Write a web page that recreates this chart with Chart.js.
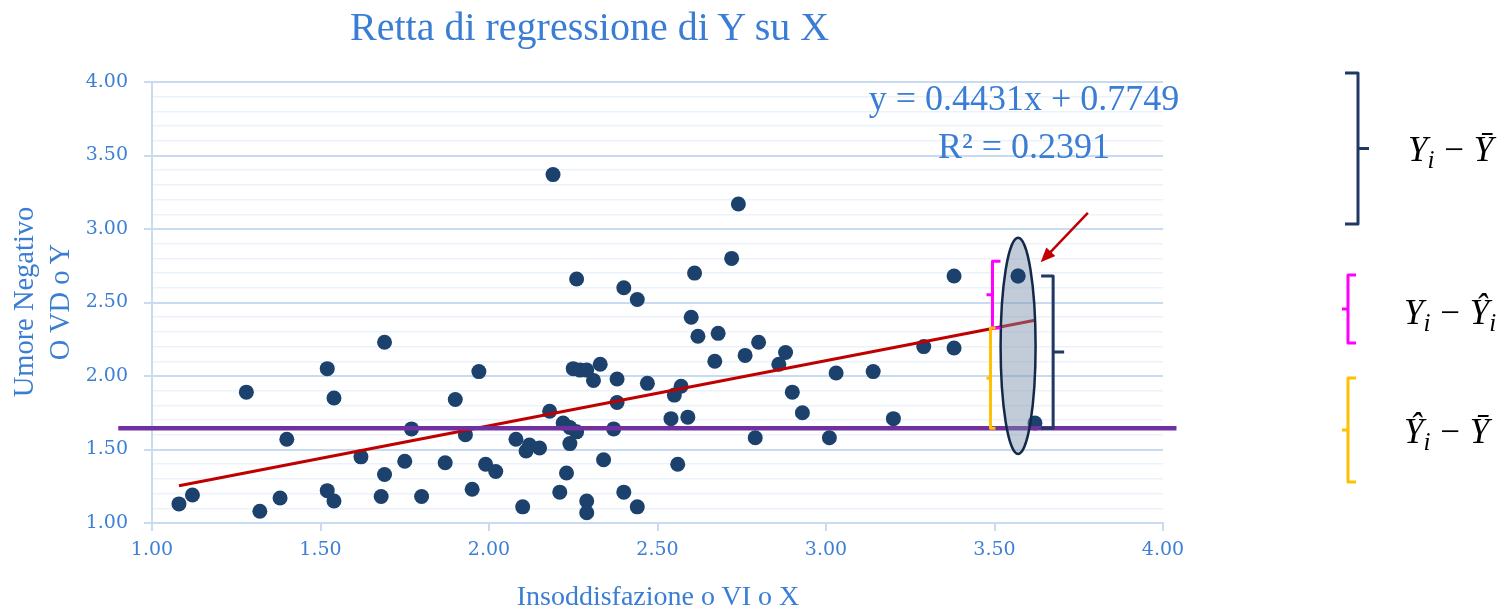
<!DOCTYPE html>
<html>
<head>
<meta charset="utf-8">
<script src="https://cdn.jsdelivr.net/npm/chart.js@4.4.1/dist/chart.umd.min.js"></script>
<style>
  html, body { margin: 0; padding: 0; background: #fff; }
  #wrap { position: relative; width: 1509px; height: 612px; overflow: hidden; }
  canvas { position: absolute; left: 0; top: 0; }
  .txt { position: absolute; font-family: "Liberation Serif", serif; color: #3a7dd4; white-space: nowrap; line-height: 1; }
  .math { position: absolute; font-family: "Liberation Serif", serif; font-style: italic; font-size: 35px; color: #000; white-space: nowrap; line-height: 1; }
  .math sub { font-size: 0.72em; vertical-align: -0.28em; line-height: 0; }
  .math .op { font-style: normal; margin: 0 0.28em; }
</style>
</head>
<body>
<div id="wrap">
  <canvas id="chart" width="1509" height="612"></canvas>
  <div class="txt" style="left:350px; top:7px; font-size:40px;">Retta di regressione di Y su X</div>
  <div class="txt" style="left:508px; width:300px; text-align:center; top:582px; font-size:28px;">Insoddisfazione o VI o X</div>
  <div class="txt" style="left:-108px; top:266px; width:300px; text-align:center; font-size:28.5px; line-height:36px; transform:rotate(-90deg);">Umore Negativo<br>O VD o Y</div>
  <div class="txt" style="left:824px; width:400px; text-align:center; top:74px; font-size:36px; line-height:48px;">y = 0.4431x + 0.7749<br>R² = 0.2391</div>
  <div class="math" style="left:1408px; top:132px;">Y<sub>i</sub><span class="op">−</span>Ȳ</div>
  <div class="math" style="left:1404px; top:295px;">Y<sub>i</sub><span class="op">−</span>Ŷ<sub>i</sub></div>
  <div class="math" style="left:1404px; top:414px;">Ŷ<sub>i</sub><span class="op">−</span>Ȳ</div>
</div>
<script>
// Insoddisfazione (X) e Umore negativo (Y)
const insoddisfazione = [
  1.08, 1.12, 1.28, 1.32, 1.38, 1.40, 1.52, 1.52, 1.54, 1.54,
  1.62, 1.68, 1.69, 1.69, 1.75, 1.77, 1.80, 1.87, 1.90, 1.93,
  1.95, 1.97, 1.99, 2.02, 2.08, 2.11, 2.12, 2.10, 2.15, 2.19,
  2.74, 2.72, 2.61, 2.26, 2.40, 2.44, 2.60, 2.62, 2.68, 2.80,
  2.76, 2.67, 2.88, 2.86, 3.03, 2.33, 2.25, 2.27, 2.29, 2.31,
  2.38, 2.47, 2.57, 2.55, 2.38, 2.18, 2.90, 2.93, 2.22, 2.24,
  2.26, 2.24, 2.37, 2.54, 2.59, 2.79, 3.01, 2.34, 2.56, 2.23,
  2.21, 2.40, 2.29, 2.29, 2.44, 3.14, 3.20, 3.29, 3.38, 3.38,
  3.57, 3.62
];
const umoreNegativo = [
  1.13, 1.19, 1.89, 1.08, 1.17, 1.57, 2.05, 1.22, 1.85, 1.15,
  1.45, 1.18, 2.23, 1.33, 1.42, 1.64, 1.18, 1.41, 1.84, 1.60,
  1.23, 2.03, 1.40, 1.35, 1.57, 1.49, 1.53, 1.11, 1.51, 3.37,
  3.17, 2.80, 2.70, 2.66, 2.60, 2.52, 2.40, 2.27, 2.29, 2.23,
  2.14, 2.10, 2.16, 2.08, 2.02, 2.08, 2.05, 2.04, 2.04, 1.97,
  1.98, 1.95, 1.93, 1.87, 1.82, 1.76, 1.89, 1.75, 1.68, 1.65,
  1.62, 1.54, 1.64, 1.71, 1.72, 1.58, 1.58, 1.43, 1.40, 1.34,
  1.21, 1.21, 1.15, 1.07, 1.11, 2.03, 1.71, 2.20, 2.19, 2.68,
  2.68, 1.68
];

// retta di regressione (dall'equazione) e media di Y (linea viola)
const slope = 0.4431;
const intercept = 0.7749;
const trendRange = [1.08, 3.62];
const yMean = 1.645;
const meanRange = [0.9, 4.04];

// tick
const xTicks = [1.0, 1.5, 2.0, 2.5, 3.0, 3.5, 4.0];
const yTicks = [];
for (let i = 0; i <= 30; i++) yTicks.push(Math.round((1 + i / 10) * 10) / 10);

// osservazione evidenziata (indice nei dati)
const obsIndex = 80;
const obsX = insoddisfazione[obsIndex], obsY = umoreNegativo[obsIndex];

const isMajor = v => Math.round(v * 10) % 5 === 0;
const MAJOR = '#c8dbf1', MINOR = '#ecf2fa', TICKTXT = '#3d7fd4';

function bracket(ctx, x, y1, y2, dir, endLen, nubLen, color) {
  const ym = (y1 + y2) / 2;
  ctx.beginPath();
  ctx.moveTo(x + dir * endLen, y1);
  ctx.lineTo(x, y1);
  ctx.lineTo(x, y2);
  ctx.lineTo(x + dir * endLen, y2);
  ctx.moveTo(x, ym);
  ctx.lineTo(x - dir * nubLen, ym);
  ctx.strokeStyle = color;
  ctx.lineWidth = 3;
  ctx.lineJoin = 'round';
  ctx.stroke();
}

const annotazioni = {
  id: 'annotazioni',
  afterDatasetsDraw(chart) {
    const { ctx, scales: { x, y } } = chart;
    const pred = slope * 3.5 + intercept;
    ctx.save();

    // ellisse intorno all'osservazione
    const top = y.getPixelForValue(2.94), bot = y.getPixelForValue(1.47);
    ctx.beginPath();
    ctx.ellipse(x.getPixelForValue(obsX), (top + bot) / 2, 17.5, (bot - top) / 2, 0, 0, Math.PI * 2);
    ctx.fillStyle = 'rgba(120,142,170,0.45)';
    ctx.fill();
    ctx.lineWidth = 2.5;
    ctx.strokeStyle = '#14294a';
    ctx.stroke();

    // il punto evidenziato resta sopra l'ellisse
    chart.getDatasetMeta(2).data[obsIndex].draw(ctx);

    // freccia rossa
    const ax0 = x.getPixelForValue(3.777), ay0 = y.getPixelForValue(3.11);
    const ax1 = x.getPixelForValue(3.637), ay1 = y.getPixelForValue(2.773);
    const ang = Math.atan2(ay1 - ay0, ax1 - ax0);
    ctx.beginPath();
    ctx.moveTo(ax0, ay0);
    ctx.lineTo(ax1 - 10 * Math.cos(ang), ay1 - 10 * Math.sin(ang));
    ctx.strokeStyle = '#c00000';
    ctx.lineWidth = 2.5;
    ctx.stroke();
    ctx.beginPath();
    ctx.moveTo(ax1, ay1);
    ctx.lineTo(ax1 - 16 * Math.cos(ang - 0.4), ay1 - 16 * Math.sin(ang - 0.4));
    ctx.lineTo(ax1 - 16 * Math.cos(ang + 0.4), ay1 - 16 * Math.sin(ang + 0.4));
    ctx.closePath();
    ctx.fillStyle = '#c00000';
    ctx.fill();

    // parentesi nel grafico
    const bx = x.getPixelForValue(3.494);
    bracket(ctx, bx, y.getPixelForValue(2.78), y.getPixelForValue(pred), 1, 8, 6, '#ff00ff');
    bracket(ctx, bx - 2, y.getPixelForValue(pred), y.getPixelForValue(yMean), 1, 5, 4, '#ffc000');
    bracket(ctx, x.getPixelForValue(3.674), y.getPixelForValue(obsY), y.getPixelForValue(yMean), -1, 12, 11, '#1f3864');

    // legenda a destra
    bracket(ctx, 1358, 73, 224, -1, 13, 11, '#1f3864');
    bracket(ctx, 1348, 275, 343, 1, 8, 6, '#ff00ff');
    bracket(ctx, 1348, 378, 482, 1, 8, 6, '#ffc000');
    ctx.restore();
  }
};

new Chart(document.getElementById('chart'), {
  type: 'scatter',
  data: {
    datasets: [
      {
        label: 'Y media',
        data: meanRange.map(v => ({ x: v, y: yMean })),
        showLine: true,
        borderColor: '#7030a0',
        borderWidth: 4.5,
        pointRadius: 0,
        clip: false,
        order: 0
      },
      {
        label: 'Retta di regressione',
        data: trendRange.map(v => ({ x: v, y: slope * v + intercept })),
        showLine: true,
        borderColor: '#c00000',
        borderWidth: 3,
        pointRadius: 0,
        order: 1
      },
      {
        label: 'Osservazioni',
        data: insoddisfazione.map((v, i) => ({ x: v, y: umoreNegativo[i] })),
        backgroundColor: '#1b416c',
        borderWidth: 0,
        pointRadius: 7.5,
        pointHoverRadius: 7.5,
        order: 2
      }
    ]
  },
  options: {
    responsive: false,
    animation: false,
    devicePixelRatio: 1,
    layout: { padding: { left: 72, right: 346, top: 82, bottom: 49 } },
    plugins: { legend: { display: false }, tooltip: { enabled: false } },
    scales: {
      x: {
        type: 'linear',
        min: 1, max: 4,
        afterBuildTicks: s => { s.ticks = xTicks.map(v => ({ value: v })); },
        afterFit: s => { s.height = 40; },
        ticks: {
          callback: v => v.toFixed(2),
          color: TICKTXT,
          font: { family: 'DejaVu Serif', size: 19 },
          padding: 8,
          maxRotation: 0
        },
        grid: { drawOnChartArea: false, color: MAJOR, lineWidth: 2, tickLength: 8 },
        border: { display: true, color: MAJOR, width: 2 }
      },
      y: {
        type: 'linear',
        min: 1, max: 4,
        afterBuildTicks: s => { s.ticks = yTicks.map(v => ({ value: v })); },
        afterFit: s => { s.width = 80; },
        ticks: {
          callback: v => isMajor(v) ? v.toFixed(2) : '',
          color: TICKTXT,
          font: { family: 'DejaVu Serif', size: 19 },
          padding: 16,
          autoSkip: false
        },
        grid: {
          color: c => isMajor(c.tick.value) ? MAJOR : MINOR,
          tickColor: c => isMajor(c.tick.value) ? MAJOR : 'rgba(0,0,0,0)',
          lineWidth: c => isMajor(c.tick.value) ? 2 : 1.5,
          tickLength: 8
        },
        border: { display: true, color: MAJOR, width: 2 }
      }
    }
  },
  plugins: [annotazioni]
});
</script>
</body>
</html>
